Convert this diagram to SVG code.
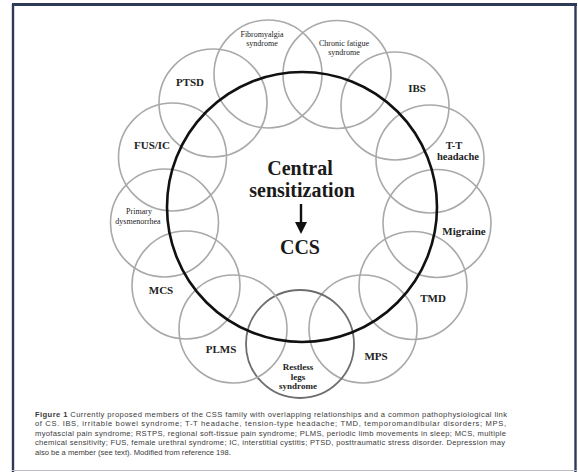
<svg xmlns="http://www.w3.org/2000/svg" width="578" height="474" viewBox="0 0 578 474">
<style>
.c{fill:none;stroke:#a9a9a9;stroke-width:1.6}
.cd{fill:none;stroke:#6e6e6e;stroke-width:1.8}
.big{fill:none;stroke:#111;stroke-width:2.6}
.lb{font-family:"Liberation Serif",serif;font-weight:bold;font-size:11px;fill:#222;text-anchor:middle}
.ls{font-family:"Liberation Serif",serif;font-size:8px;fill:#222;text-anchor:middle}
.lm{font-family:"Liberation Serif",serif;font-weight:bold;font-size:9px;fill:#222;text-anchor:middle}
.ct{font-family:"Liberation Serif",serif;font-weight:bold;font-size:20px;fill:#1a1a1a;text-anchor:middle}
.cap{font-family:"Liberation Sans",sans-serif;font-size:7.6px;fill:#3a3a3a}
</style>
<rect x="0" y="0" width="578" height="474" fill="#fff"/>
<g id="frame">
<line x1="12" y1="4.5" x2="577" y2="4.5" stroke="#2e3b58" stroke-width="3"/>
<line x1="13" y1="4" x2="13" y2="472" stroke="#2e3b58" stroke-width="2.4"/>
<line x1="575.5" y1="4" x2="575.5" y2="472" stroke="#2e3b58" stroke-width="2.4"/>
<line x1="12" y1="470.5" x2="577" y2="470.5" stroke="#b9bcc4" stroke-width="1.2"/>
</g>
<g id="n-fib"><circle class="c" cx="268" cy="74" r="54"/><text class="ls" x="262" y="37">Fibromyalgia</text><text class="ls" x="262" y="46">syndrome</text></g>
<g id="n-cfs"><circle class="c" cx="337" cy="74.5" r="54"/><text class="ls" x="344" y="46">Chronic fatigue</text><text class="ls" x="344" y="55">syndrome</text></g>
<g id="n-ibs"><circle class="c" cx="395" cy="106" r="54"/><text class="lb" x="417" y="92">IBS</text></g>
<g id="n-tt"><circle class="c" cx="430" cy="159" r="54"/><text class="lb" x="454" y="148.5" style="font-size:10.5px">T-T</text><text class="lb" x="458" y="159.5" style="font-size:10.5px">headache</text></g>
<g id="n-migraine"><circle class="c" cx="437" cy="223.5" r="54"/><text class="lb" x="464" y="235">Migraine</text></g>
<g id="n-tmd"><circle class="c" cx="413" cy="285.5" r="54"/><text class="lb" x="433" y="302">TMD</text></g>
<g id="n-mps"><circle class="c" cx="363" cy="329" r="54"/><text class="lb" x="376" y="360">MPS</text></g>
<g id="n-rls"><circle class="cd" cx="300" cy="344" r="54"/><text class="lm" x="298" y="370">Restless</text><text class="lm" x="298" y="380">legs</text><text class="lm" x="298" y="389">syndrome</text></g>
<g id="n-plms"><circle class="c" cx="233" cy="329" r="54"/><text class="lb" x="221" y="353">PLMS</text></g>
<g id="n-mcs"><circle class="c" cx="186" cy="285" r="54"/><text class="lb" x="161" y="294">MCS</text></g>
<g id="n-pd"><circle class="c" cx="164.5" cy="223" r="54"/><text class="ls" x="139" y="214">Primary</text><text class="ls" x="138" y="224">dysmenorrhea</text></g>
<g id="n-fus"><circle class="c" cx="172.5" cy="157" r="54"/><text class="lb" x="152" y="149">FUS/IC</text></g>
<g id="n-ptsd"><circle class="c" cx="213" cy="103" r="54"/><text class="lb" x="190" y="86">PTSD</text></g>
<g id="n-cs"><circle class="big" cx="302" cy="207" r="135"/>
<text class="ct" x="300" y="174.5">Central</text>
<text class="ct" x="302" y="197">sensitization</text></g>
<g id="n-ccs"><text class="ct" x="300" y="254">CCS</text></g>
<g id="connectors">
<line x1="301" y1="204" x2="301" y2="223" stroke="#111" stroke-width="2.4"/>
<polygon points="295,222 307,222 301,234" fill="#111"/>
</g>
<g id="caption">
<text class="cap" x="35" y="416.5" textLength="472" lengthAdjust="spacing"><tspan font-weight="bold">Figure 1</tspan>  Currently proposed members of the CSS family with overlapping relationships and a common pathophysiological link</text>
<text class="cap" x="35" y="426" textLength="471" lengthAdjust="spacing">of CS. IBS, irritable bowel syndrome; T-T headache, tension-type headache; TMD, temporomandibular disorders; MPS,</text>
<text class="cap" x="35" y="435.5" textLength="471" lengthAdjust="spacing">myofascial pain syndrome; RSTPS, regional soft-tissue pain syndrome; PLMS, periodic limb movements in sleep; MCS, multiple</text>
<text class="cap" x="35" y="445" textLength="470" lengthAdjust="spacing">chemical sensitivity; FUS, female urethral syndrome; IC, interstitial cystitis; PTSD, posttraumatic stress disorder. Depression may</text>
<text class="cap" x="35" y="454.5">also be a member (see text). Modified from reference 198.</text>
</g>
</svg>
